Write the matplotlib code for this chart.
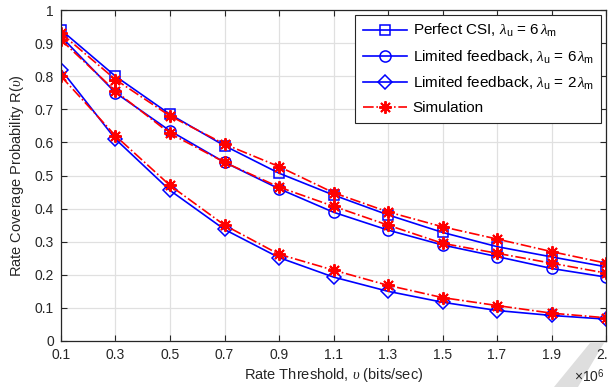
import matplotlib
matplotlib.use("Agg")
import matplotlib.pyplot as plt
from matplotlib.patches import Polygon

plt.rcParams["font.family"] = ["Liberation Sans", "DejaVu Sans"]
plt.rcParams["mathtext.fontset"] = "custom"
plt.rcParams["mathtext.rm"] = "Liberation Sans"
plt.rcParams["mathtext.it"] = "Liberation Serif:italic"

# rate threshold in units of 1e6 bits/sec
threshold = [0.1, 0.3, 0.5, 0.7, 0.9, 1.1, 1.3, 1.5, 1.7, 1.9, 2.1]

perfect_csi_6 = [0.94, 0.80, 0.685, 0.59, 0.507, 0.441, 0.381, 0.328, 0.285, 0.254, 0.224]
limited_fb_6 = [0.92, 0.75, 0.635, 0.54, 0.46, 0.389, 0.335, 0.29, 0.255, 0.219, 0.193]
limited_fb_2 = [0.82, 0.61, 0.455, 0.337, 0.252, 0.193, 0.15, 0.117, 0.092, 0.077, 0.066]

sim_perfect_6 = [0.93, 0.79, 0.68, 0.595, 0.527, 0.448, 0.39, 0.345, 0.308, 0.27, 0.235]
sim_limited_6 = [0.91, 0.755, 0.627, 0.54, 0.465, 0.407, 0.35, 0.295, 0.265, 0.235, 0.205]
sim_limited_2 = [0.80, 0.62, 0.47, 0.35, 0.262, 0.214, 0.168, 0.131, 0.107, 0.084, 0.07]

xticks = [0.1, 0.3, 0.5, 0.7, 0.9, 1.1, 1.3, 1.5, 1.7, 1.9, 2.1]
yticks = [0, 0.1, 0.2, 0.3, 0.4, 0.5, 0.6, 0.7, 0.8, 0.9, 1]

fig = plt.figure(figsize=(6.08, 3.87), dpi=100)
ax = fig.add_axes([0.1003, 0.119, 0.8965, 0.855])

blue = (0, 0, 1)
red = (1, 0, 0)
star = (8, 2, 0)

ax.plot(threshold, perfect_csi_6, "-", color=blue, lw=1.2, marker="s", ms=7,
        mfc="none", mew=1.1, label=r"Perfect CSI, $\lambda_{\rm u}$ = 6$\,\lambda_{\rm m}$")
ax.plot(threshold, limited_fb_6, "-", color=blue, lw=1.2, marker="o", ms=8,
        mfc="none", mew=1.1, label=r"Limited feedback, $\lambda_{\rm u}$ = 6$\,\lambda_{\rm m}$")
ax.plot(threshold, limited_fb_2, "-", color=blue, lw=1.2, marker="D", ms=7,
        mfc="none", mew=1.1, label=r"Limited feedback, $\lambda_{\rm u}$ = 2$\,\lambda_{\rm m}$")

for i, sim in enumerate([sim_perfect_6, sim_limited_6, sim_limited_2]):
    ax.plot(threshold, sim, "-.", color=red, lw=1.2, marker=star, ms=9, mew=1.4,
            label="Simulation" if i == 0 else None)

ax.set_xlim(0.1, 2.1)
ax.set_ylim(0, 1)
ax.set_xticks(xticks)
ax.set_xticklabels([f"{v:.1f}" for v in xticks])
ax.set_yticks(yticks)
ax.set_yticklabels([f"{v:g}" for v in yticks])

tick_color = (0.15, 0.15, 0.15)
ax.tick_params(direction="in", length=4, width=0.8, colors=tick_color,
               labelsize=10, top=True, right=True, pad=5)
for s in ax.spines.values():
    s.set_color(tick_color)
    s.set_linewidth(0.9)
ax.grid(True, color=(0.88, 0.88, 0.88), lw=0.9)
ax.set_axisbelow(True)

ax.set_xlabel(r"Rate Threshold, $\it{\upsilon}$ (bits/sec)", fontsize=10.5,
              color=tick_color, labelpad=3)
ax.set_ylabel(r"Rate Coverage Probability R($\it{\upsilon}$)", fontsize=10.5,
              color=tick_color, labelpad=6)
fig.text(0.944, 0.014, r"$\times10^{6}$", fontsize=10, color=tick_color)

leg = ax.legend(loc="upper right", fontsize=11, frameon=True, fancybox=False,
                edgecolor=tick_color, framealpha=1, borderpad=0.5,
                handlelength=2.9, handletextpad=0.35, labelspacing=0.6,
                borderaxespad=0.3)
leg.get_frame().set_linewidth(0.8)

# light grey page-curl band in the lower right corner
band = Polygon([(590 / 608, 1 - 343 / 387), (604 / 608, 1 - 343 / 387),
                (578 / 608, 0), (554 / 608, 0)],
               closed=True, transform=fig.transFigure, color=(0.87, 0.87, 0.87),
               zorder=-1, lw=0)
fig.patches.append(band)

fig.savefig("out.png", dpi=100)
